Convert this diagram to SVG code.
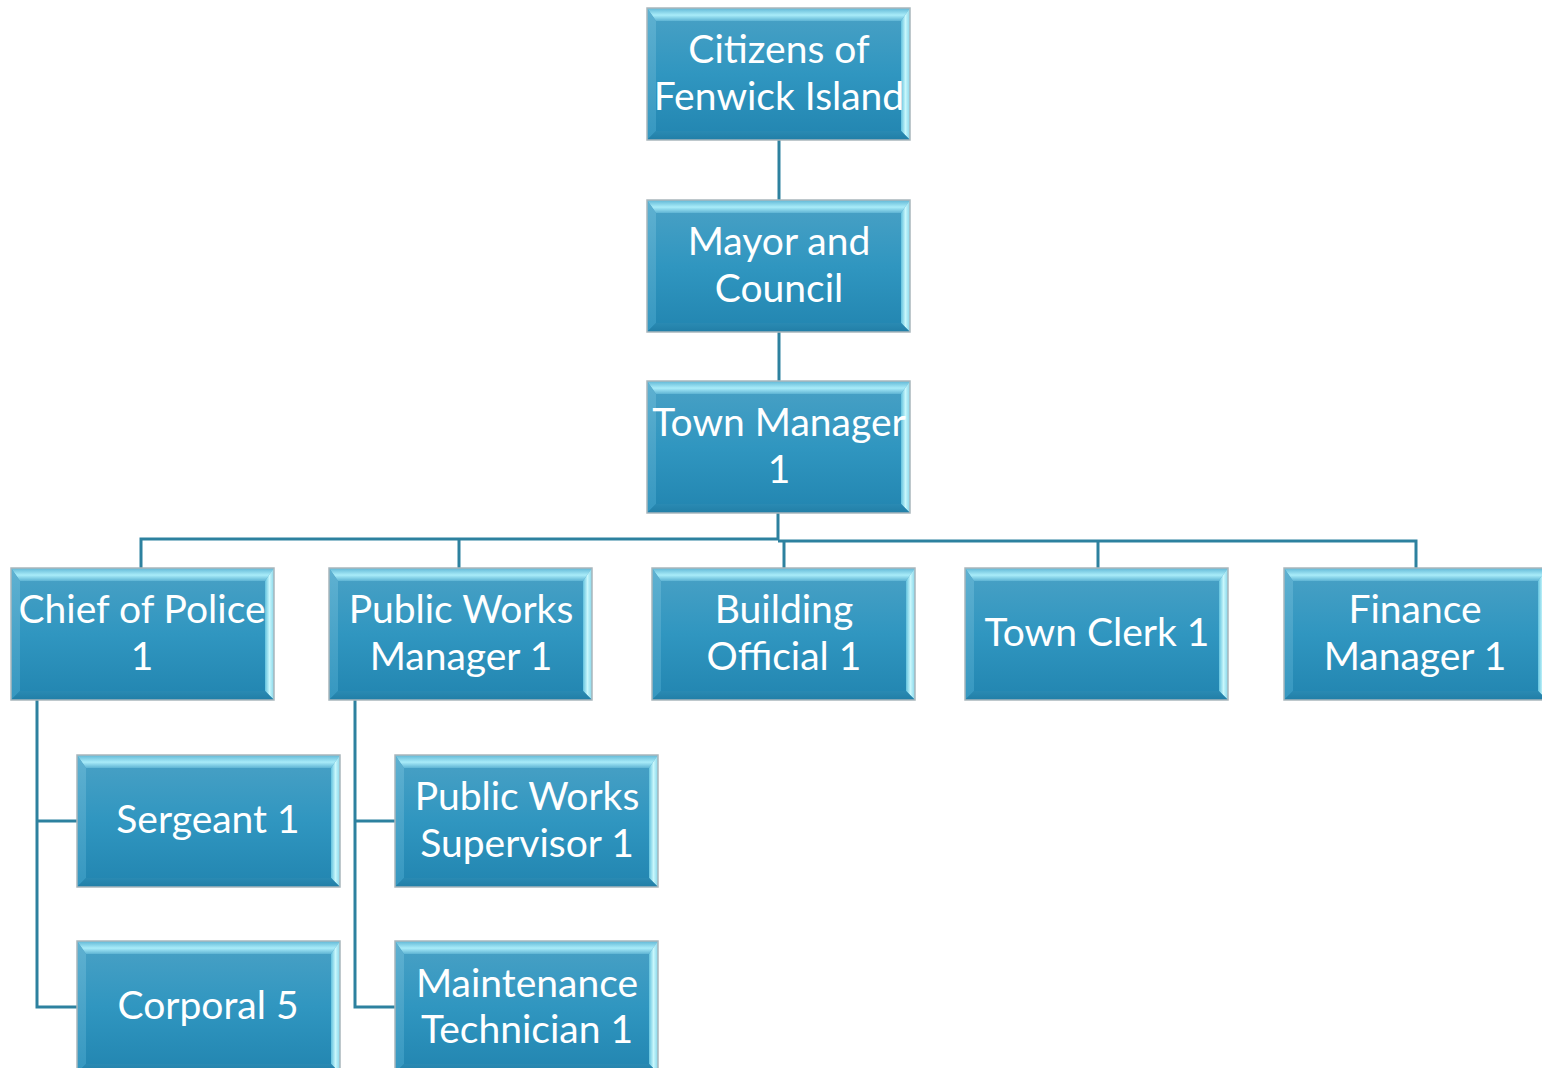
<svg xmlns="http://www.w3.org/2000/svg" xmlns:xlink="http://www.w3.org/1999/xlink" width="1542" height="1068" viewBox="0 0 1542 1068">
  <defs>
    <linearGradient id="face" x1="0" y1="0" x2="0" y2="1">
      <stop offset="0" stop-color="#4aa1c5"/>
      <stop offset="0.5" stop-color="#3096c0"/>
      <stop offset="1" stop-color="#2285b0"/>
    </linearGradient>
    <linearGradient id="bevTop" x1="0" y1="0" x2="0" y2="1">
      <stop offset="0" stop-color="#5fb6d5"/>
      <stop offset="0.55" stop-color="#a9ecf9"/>
      <stop offset="1" stop-color="#5eb4d4"/>
    </linearGradient>
    <linearGradient id="bevRight" x1="0" y1="0" x2="1" y2="0">
      <stop offset="0" stop-color="#62c2de"/>
      <stop offset="0.5" stop-color="#c8f7fc"/>
      <stop offset="1" stop-color="#86d6ea"/>
    </linearGradient>
    <linearGradient id="bevLeft" x1="0" y1="0" x2="0" y2="1">
      <stop offset="0" stop-color="#5fb1d1"/>
      <stop offset="1" stop-color="#3597c0"/>
    </linearGradient>
    <linearGradient id="bevBottom" x1="0" y1="0" x2="0" y2="1">
      <stop offset="0" stop-color="#2a8ab3"/>
      <stop offset="1" stop-color="#217ea6"/>
    </linearGradient>
    <!-- bevelled box, 263 x 132 -->
    <symbol id="box" overflow="visible">
      <rect x="0" y="0" width="263" height="132" fill="url(#face)"/>
      <polygon points="0,0 263,0 254,13 9,13" fill="url(#bevTop)"/>
      <polygon points="0,0 9,13 9,123 0,132" fill="url(#bevLeft)"/>
      <polygon points="263,0 263,132 254,123 254,13" fill="url(#bevRight)"/>
      <polygon points="0,132 9,123 254,123 263,132" fill="url(#bevBottom)"/>
      <rect x="0" y="0" width="263" height="132" fill="none" stroke="#a9b6bc" stroke-width="1.5"/>
    </symbol>
  </defs>
  <style>
    .lbl { font-family: Lato, "Liberation Sans", sans-serif; font-size: 39px; fill: #ffffff; text-anchor: middle; }
    .conn { fill: none; stroke: #2d819f; stroke-width: 3; }
  </style>

  <rect width="1542" height="1068" fill="#ffffff"/>

  <g id="connectors">
    <path class="conn" d="M779,140 V200"/>
    <path class="conn" d="M779,332 V381"/>
    <path class="conn" d="M778,513 V540"/>
    <path class="conn" d="M141,568 V539 H779"/>
    <path class="conn" d="M778,541 H1416 V568"/>
    <path class="conn" d="M459,539 V568"/>
    <path class="conn" d="M784,541 V568"/>
    <path class="conn" d="M1098,541 V568"/>
    <path class="conn" d="M37,700 V1007 H77"/>
    <path class="conn" d="M37,821 H77"/>
    <path class="conn" d="M355,700 V1007 H395"/>
    <path class="conn" d="M355,821 H395"/>
  </g>

  <g id="citizens">
    <use xlink:href="#box" x="647" y="8"/>
    <text class="lbl" x="779" y="63">Citizens of</text>
    <text class="lbl" x="779" y="110">Fenwick Island</text>
  </g>
  <g id="mayor-council">
    <use xlink:href="#box" x="647" y="200"/>
    <text class="lbl" x="779" y="255">Mayor and</text>
    <text class="lbl" x="779" y="302">Council</text>
  </g>
  <g id="town-manager">
    <use xlink:href="#box" x="647" y="381"/>
    <text class="lbl" x="779" y="436">Town Manager</text>
    <text class="lbl" x="779" y="483">1</text>
  </g>
  <g id="chief-of-police">
    <use xlink:href="#box" x="11" y="568"/>
    <text class="lbl" x="142" y="623">Chief of Police</text>
    <text class="lbl" x="142" y="670">1</text>
  </g>
  <g id="public-works-manager">
    <use xlink:href="#box" x="329" y="568"/>
    <text class="lbl" x="461" y="623">Public Works</text>
    <text class="lbl" x="461" y="670">Manager 1</text>
  </g>
  <g id="building-official">
    <use xlink:href="#box" x="652" y="568"/>
    <text class="lbl" x="784" y="623">Building</text>
    <text class="lbl" x="784" y="670">Official 1</text>
  </g>
  <g id="town-clerk">
    <use xlink:href="#box" x="965" y="568"/>
    <text class="lbl" x="1097" y="646">Town Clerk 1</text>
  </g>
  <g id="finance-manager">
    <use xlink:href="#box" x="1284" y="568"/>
    <text class="lbl" x="1415" y="623">Finance</text>
    <text class="lbl" x="1415" y="670">Manager 1</text>
  </g>
  <g id="sergeant">
    <use xlink:href="#box" x="77" y="755"/>
    <text class="lbl" x="208" y="833">Sergeant 1</text>
  </g>
  <g id="corporal">
    <use xlink:href="#box" x="77" y="941"/>
    <text class="lbl" x="208" y="1019">Corporal 5</text>
  </g>
  <g id="public-works-supervisor">
    <use xlink:href="#box" x="395" y="755"/>
    <text class="lbl" x="527" y="810">Public Works</text>
    <text class="lbl" x="527" y="857">Supervisor 1</text>
  </g>
  <g id="maintenance-technician">
    <use xlink:href="#box" x="395" y="941"/>
    <text class="lbl" x="527" y="997">Maintenance</text>
    <text class="lbl" x="527" y="1043">Technician 1</text>
  </g>
</svg>
